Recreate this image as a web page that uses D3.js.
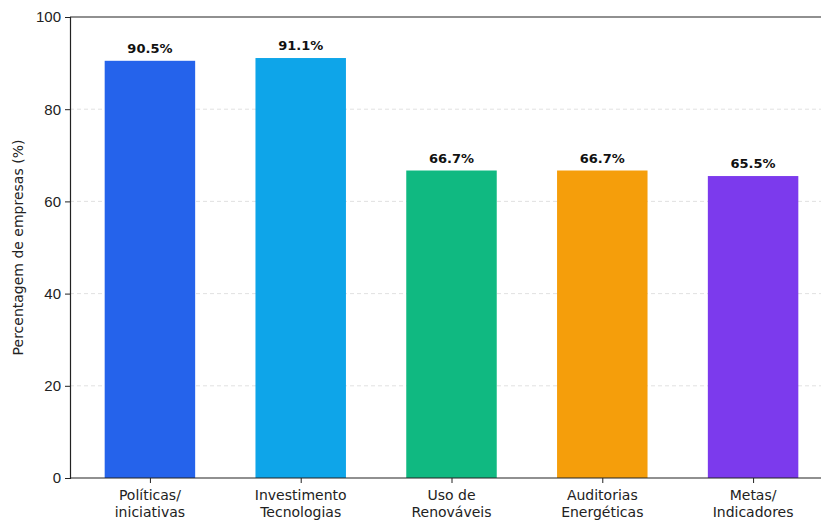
<!DOCTYPE html>
<html>
<head>
<meta charset="utf-8">
<script src="https://cdn.jsdelivr.net/npm/d3@7"></script>
<style>
  body { margin: 0; background: #fff; }
  svg { font-family: "DejaVu Sans", sans-serif; }
</style>
</head>
<body>
<div id="chart"></div>
<script>
const categories = [["Políticas/", "iniciativas"], ["Investimento", "Tecnologias"], ["Uso de", "Renováveis"], ["Auditorias", "Energéticas"], ["Metas/", "Indicadores"]];
const values = [90.5, 91.1, 66.7, 66.7, 65.5];
const colors = ["#2563eb", "#0ea5e9", "#10b981", "#f59e0b", "#7c3aed"];
const yTicks = [0, 20, 40, 60, 80, 100];

const width = 821, height = 520;
const plotLeft = 70, plotTop = 17, plotBottom = 478;

const svg = d3.select("#chart")
    .append("svg")
    .attr("width", width)
    .attr("height", height);

// bars sit at integer positions, width 0.6, like matplotlib
const x = d3.scaleLinear()
    .domain([-0.53, 4.53])
    .range([plotLeft, 833]);

const y = d3.scaleLinear()
    .domain([0, 100])
    .range([plotBottom, plotTop]);

// grid
svg.append("g")
    .selectAll("line")
    .data(yTicks.filter(d => d > 0 && d < 100))
    .enter()
    .append("line")
    .attr("x1", plotLeft)
    .attr("x2", width)
    .attr("y1", d => y(d))
    .attr("y2", d => y(d))
    .attr("stroke", "#d9d9d9")
    .attr("stroke-width", 0.8)
    .attr("stroke-dasharray", "4,3");

// bars
svg.append("g")
    .selectAll("rect")
    .data(values)
    .enter()
    .append("rect")
    .attr("x", (d, i) => x(i - 0.3))
    .attr("width", (d, i) => x(i + 0.3) - x(i - 0.3))
    .attr("y", d => y(d))
    .attr("height", d => y(0) - y(d))
    .attr("fill", (d, i) => colors[i]);

// value labels
svg.append("g")
    .selectAll("text")
    .data(values)
    .enter()
    .append("text")
    .attr("x", (d, i) => x(i))
    .attr("y", d => y(d) - 8)
    .attr("text-anchor", "middle")
    .attr("font-size", 13)
    .attr("font-weight", "bold")
    .attr("fill", "#111")
    .text(d => d.toFixed(1) + "%");

// y axis
const yAxis = svg.append("g")
    .attr("transform", `translate(${plotLeft},0)`)
    .call(d3.axisLeft(y).tickValues(yTicks).tickSize(5).tickPadding(4));
yAxis.select(".domain").attr("stroke", "#222").attr("stroke-width", 1.2);
yAxis.selectAll(".tick line").attr("stroke", "#222");
yAxis.selectAll(".tick text").attr("font-size", 15).attr("fill", "#222");

// x axis
const xAxis = svg.append("g")
    .attr("transform", `translate(0,${plotBottom})`)
    .call(d3.axisBottom(x).tickValues(d3.range(categories.length)).tickSize(5).tickFormat(""));
xAxis.select(".domain").remove();
xAxis.selectAll(".tick line").attr("stroke", "#222");
svg.append("line")
    .attr("x1", plotLeft).attr("x2", width)
    .attr("y1", plotBottom).attr("y2", plotBottom)
    .attr("stroke", "#222").attr("stroke-width", 1.2);

// top spine
svg.append("line")
    .attr("x1", plotLeft).attr("x2", width)
    .attr("y1", plotTop).attr("y2", plotTop)
    .attr("stroke", "#222").attr("stroke-width", 1.2);

const xLabels = svg.append("g")
    .selectAll("text")
    .data(categories)
    .enter()
    .append("text")
    .attr("x", (d, i) => x(i))
    .attr("y", 500)
    .attr("text-anchor", "middle")
    .attr("font-size", 14)
    .attr("fill", "#222");
xLabels.selectAll("tspan")
    .data(d => d)
    .enter()
    .append("tspan")
    .attr("x", function() { return d3.select(this.parentNode).attr("x"); })
    .attr("dy", (d, i) => i === 0 ? 0 : 17)
    .text(d => d);

// y label
svg.append("text")
    .attr("transform", `translate(23,${(plotTop + plotBottom) / 2}) rotate(-90)`)
    .attr("text-anchor", "middle")
    .attr("font-size", 14)
    .attr("fill", "#222")
    .text("Percentagem de empresas (%)");
</script>
</body>
</html>
